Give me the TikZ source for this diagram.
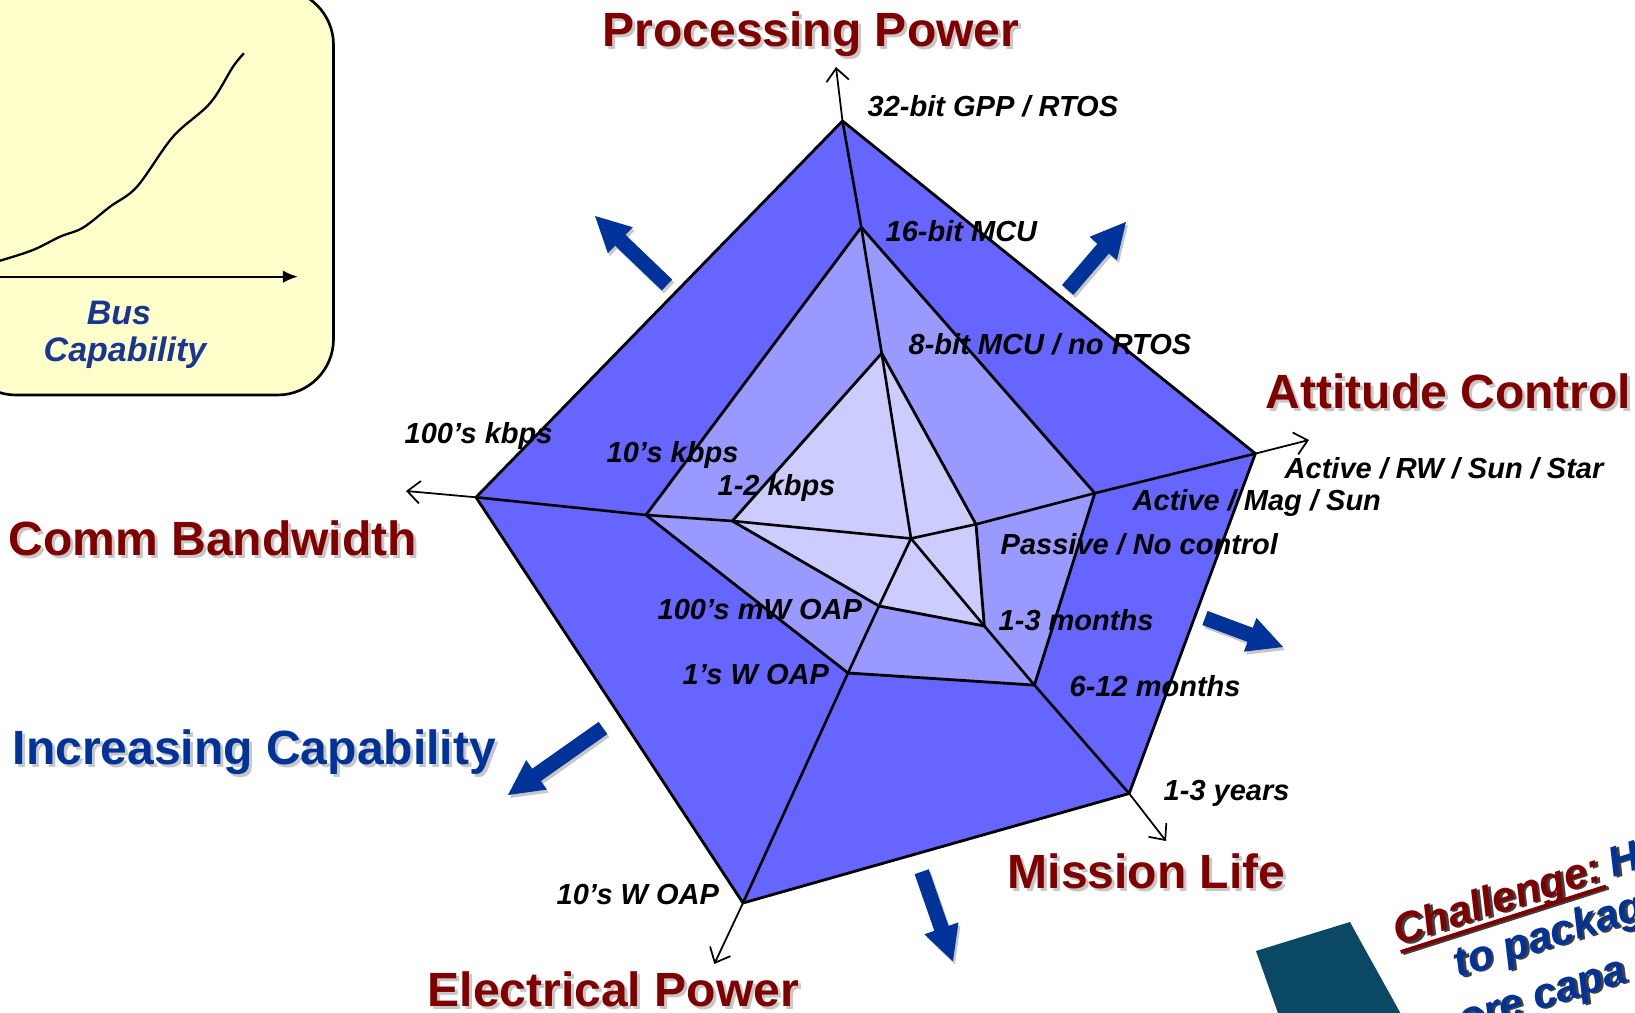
\documentclass[tikz,border=0pt]{standalone}
\usepackage{fontspec}
\setmainfont{Liberation Sans}
\usetikzlibrary{positioning,arrows.meta}
\definecolor{lvlouter}{RGB}{102,102,255}
\definecolor{lvlmid}{RGB}{153,153,255}
\definecolor{lvlinner}{RGB}{204,204,255}
\definecolor{titlered}{RGB}{128,0,0}
\definecolor{capblue}{RGB}{0,51,153}
\definecolor{busblue}{RGB}{25,55,145}
\definecolor{notepad}{RGB}{255,255,204}
\definecolor{swoosh}{RGB}{10,72,100}
\newcommand{\chul}[1]{\setbox0=\hbox{#1}\rlap{\rule[-0.2em]{\wd0}{0.09em}}\box0}
\tikzset{
    ring/.style={draw=black, line width=0.8pt, line join=miter},
    spoke/.style={draw=black, line width=0.75pt},
    axis/.style={draw=black, line width=0.5pt, -{Straight Barb[length=3.6pt,width=6.4pt]}},
    level/.style={font=\fontsize{8.25}{9}\selectfont\bfseries\itshape, inner sep=0pt, anchor=base west},
    title/.style={font=\fontsize{13.66}{15}\selectfont\bfseries, inner sep=0pt, anchor=base west, text=titlered},
    titleshadow/.style={title, text=black!22},
    bus/.style={font=\fontsize{9.67}{11}\selectfont\bfseries\itshape, inner sep=0pt, anchor=base, text=busblue},
    chal/.style={font=\fontsize{12}{14}\selectfont\bfseries\itshape, inner sep=0pt, anchor=base west},
    growarrow/.pic={
      \path[pic actions] (0,-7.5) -- (#1-35,-7.5) -- (#1-35,-18) -- (#1,0)
        -- (#1-35,18) -- (#1-35,7.5) -- (0,7.5) -- cycle;
    }}

\begin{document}
\begin{tikzpicture}[x=0.01cm, y=-0.01cm]
    \useasboundingbox (0,0) rectangle (1635,1013);

    % bus capability sketch
    \path[draw=black, line width=0.75pt, fill=notepad, rounded corners=15.9pt] (-40,-11) rectangle (333.5,395);
    \coordinate (bx0) at (-10,276.7);
    \coordinate (bxT) at (298,276.7);
    \draw[line width=0.65pt, -{Latex[length=4.3pt,width=3.6pt]}] (bx0) -- (bxT);
    \draw[line width=0.65pt] plot[smooth, tension=0.55] coordinates {(-10,263) (0,260.7) (33,250) (60,236.7)
      (83,227.7) (110,206.7) (137,186.7) (173,136.7) (210,103.3) (233,66.7) (244,53.3)};
    \node[bus] (busA) at (119,325) {Bus};
    \node[bus] (busB) at (125,361.7) {Capability};

    % radar axes
    \coordinate (c) at (911,538.5);
    \coordinate (pp1) at (881.7,353.3);
    \coordinate (pp2) at (861.3,227.3);
    \coordinate (pp3) at (842.5,121);
    \coordinate (ppT) at (836,67);
    \coordinate (ac1) at (976,524.3);
    \coordinate (ac2) at (1094.8,493.2);
    \coordinate (ac3) at (1255.4,453.6);
    \coordinate (acT) at (1309,440);
    \coordinate (ml1) at (984.3,626);
    \coordinate (ml2) at (1034.4,685.1);
    \coordinate (ml3) at (1129.2,793.5);
    \coordinate (mlT) at (1166,841);
    \coordinate (ep1) at (879,606);
    \coordinate (ep2) at (848,673);
    \coordinate (ep3) at (743,903);
    \coordinate (epT) at (714.3,964);
    \coordinate (cb1) at (732.3,521);
    \coordinate (cb2) at (646,515);
    \coordinate (cb3) at (476,497.3);
    \coordinate (cbT) at (406,491);

    % capability rings
    \path[ring, fill=lvlouter] (pp3) -- (ac3) -- (ml3) -- (ep3) -- (cb3) -- cycle;
    \path[ring, fill=lvlmid] (pp2) -- (ac2) -- (ml2) -- (ep2) -- (cb2) -- cycle;
    \path[ring, fill=lvlinner] (pp1) -- (ac1) -- (ml1) -- (ep1) -- (cb1) -- cycle;

    \draw[spoke] (c) -- (pp1) -- (pp2) -- (pp3);
    \draw[spoke] (c) -- (ac1) -- (ac2) -- (ac3);
    \draw[spoke] (c) -- (ml1) -- (ml2) -- (ml3);
    \draw[spoke] (c) -- (ep1) -- (ep2) -- (ep3);
    \draw[spoke] (c) -- (cb1) -- (cb2) -- (cb3);
    \draw[axis] (pp3) -- (ppT);
    \draw[axis] (ac3) -- (acT);
    \draw[axis] (ml3) -- (mlT);
    \draw[axis] (ep3) -- (epT);
    \draw[axis] (cb3) -- (cbT);

    % level labels
    \node[level] (l32) at (867,116.8) {32-bit GPP / RTOS};
    \node[level] (l16) at (885,241.9) {16-bit MCU};
    \node[level] (l8) at (908,354.5) {8-bit MCU / no RTOS};
    \node[level] (lars) at (1284,478.6) {Active / RW / Sun / Star};
    \node[level] (lams) at (1132,511) {Active / Mag / Sun};
    \node[level] (lpas) at (1000,554.7) {Passive / No control};
    \node[level] (l13m) at (998,630.8) {1-3 months};
    \node[level] (l612) at (1069,696.5) {6-12 months};
    \node[level] (l13y) at (1163,800.7) {1-3 years};
    \node[level] (l10w) at (556,905) {10’s W OAP};
    \node[level] (l1w) at (682,685) {1’s W OAP};
    \node[level] (l100mw) at (657,619.3) {100’s mW OAP};
    \node[level] (l100k) at (404,443.3) {100’s kbps};
    \node[level] (l10k) at (606,462.7) {10’s kbps};
    \node[level] (l12k) at (717,496) {1-2 kbps};

    % axis titles
    \node[titleshadow] (ppS) at (605,50) {Processing Power};
    \node[title] (pp) at (602,47) {Processing Power};
    \node[titleshadow] (acS) at (1268,411.5) {Attitude Control};
    \node[title] (ac) at (1265,408.5) {Attitude Control};
    \node[titleshadow] (cbS) at (11,559) {Comm Bandwidth};
    \node[title] (cb) at (8,556) {Comm Bandwidth};
    \node[titleshadow] (mlS) at (1010,891.4) {Mission Life};
    \node[title] (ml) at (1007,888.4) {Mission Life};
    \node[titleshadow] (epS) at (430,1010) {Electrical Power};
    \node[title] (ep) at (427,1007) {Electrical Power};
    \node[titleshadow] (icS) at (15,768) {Increasing Capability};
    \node[title, text=capblue] (ic) at (12,765) {Increasing Capability};

    % growth arrows
    \pic[rotate=136.2, fill=black!22] at (669,288) {growarrow=99.7};
    \pic[rotate=136.2, fill=capblue] at (667,285) {growarrow=99.7};
    \pic[rotate=49.4, fill=black!22] at (1069.7,293) {growarrow=89.6};
    \pic[rotate=49.4, fill=capblue] at (1067.7,290) {growarrow=89.6};
    \pic[rotate=-20.4, fill=black!22] at (1207,621) {growarrow=83.2};
    \pic[rotate=-20.4, fill=capblue] at (1205,618) {growarrow=83.2};
    \pic[rotate=-70.8, fill=black!22] at (923.7,874.7) {growarrow=95};
    \pic[rotate=-70.8, fill=capblue] at (921.7,871.7) {growarrow=95};
    \pic[rotate=215.2, fill=black!22] at (605,731) {growarrow=116.3};
    \pic[rotate=215.2, fill=capblue] at (603,728) {growarrow=116.3};

    % challenge corner
    \fill[swoosh] (1256,951) -- (1350,922) .. controls (1368,955) and (1385,985) .. (1402,1016)
      -- (1279,1016) -- cycle;
    \begin{scope}[shift={(1398,946)}, rotate=17.7, transform shape]
      \node[chal, text=black!75] (chS) at (2,2) {\chul{Challenge:}};
      \node[chal, text=titlered] (ch) at (0,0) {\chul{Challenge:}};
      \node[chal, text=black!75] (chHS) at (228,2) {H};
      \node[chal, text=capblue] (chH) at (226,0) {H};
      \node[chal, text=black!75] (ch2S) at (49.5,50.7) {to packag};
      \node[chal, text=capblue] (ch2) at (47.5,48.7) {to packag};
      \node[chal, text=black!75] (ch3S) at (-0.5,105.7) {more capa};
      \node[chal, text=capblue] (ch3) at (-2.5,103.7) {more capa};
    \end{scope}
\end{tikzpicture}
\end{document}
